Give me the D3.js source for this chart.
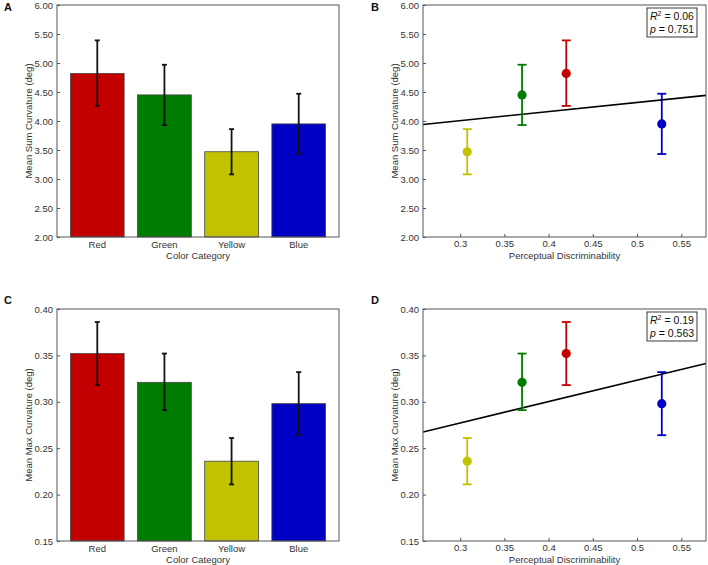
<!DOCTYPE html>
<html><head><meta charset="utf-8">
<script src="https://cdn.jsdelivr.net/npm/d3@7"></script>
<style>
body{margin:0;background:#fff;}
svg{display:block;font-family:"Liberation Sans",Arial,sans-serif;}
.tick text{fill:#333;font-size:9.5px;}
</style></head><body>
<svg id="chart" width="708" height="565"></svg>
<script>
const categories = ["Red","Green","Yellow","Blue"];
const colors = ["#c30000","#007c00","#c2c200","#0000c4"];
const discrim = [0.420, 0.370, 0.308, 0.528];
const sumMean = [4.82, 4.45, 3.47, 3.95];
const sumLo   = [4.26, 3.93, 3.08, 3.43];
const sumHi   = [5.39, 4.97, 3.86, 4.47];
const maxMean = [0.352, 0.321, 0.236, 0.298];
const maxLo   = [0.318, 0.291, 0.211, 0.264];
const maxHi   = [0.386, 0.352, 0.261, 0.332];
const sumTicks = [2.00,2.50,3.00,3.50,4.00,4.50,5.00,5.50,6.00];
const maxTicks = [0.15,0.20,0.25,0.30,0.35,0.40];
const xTicks = [0.3,0.35,0.4,0.45,0.5,0.55];
const statsB = {r2:"0.06", p:"0.751"};
const statsD = {r2:"0.19", p:"0.563"};

const svg = d3.select("#chart");
const frameColor = "#555";

function yAxisPanel(g, y, ticks, fmt, L, T, B, title){
  g.append("g").attr("transform",`translate(${L},0)`)
    .call(d3.axisLeft(y).tickValues(ticks).tickFormat(fmt).tickSizeInner(-3).tickSizeOuter(0).tickPadding(4))
    .call(a=>{a.select(".domain").remove();a.selectAll(".tick line").attr("stroke",frameColor);});
  g.append("text").attr("transform",`translate(${L-28},${(T+B)/2}) rotate(-90)`)
    .attr("text-anchor","middle").attr("dy","0.35em").attr("fill","#333").attr("font-size","9.5px").text(title);
}
function frame(g,L,R,T,B){
  g.append("rect").attr("x",L).attr("y",T).attr("width",R-L).attr("height",B-T)
    .attr("fill","none").attr("stroke",frameColor).attr("stroke-width",1);
}
function panelLabel(x,y,t){
  svg.append("text").attr("x",x).attr("y",y).attr("font-weight","bold").attr("font-size","11px").attr("fill","#111").text(t);
}

function barPanel(L,R,T,B,mean,lo,hi,ydom,ticks,fmt,title){
  const g = svg.append("g");
  const x = d3.scaleBand().domain(categories).range([L,R]).paddingInner(0.2).paddingOuter(0.2);
  const y = d3.scaleLinear().domain(ydom).range([B,T]);
  g.selectAll("rect.bar").data(categories).join("rect").attr("class","bar")
    .attr("x",d=>x(d)).attr("width",x.bandwidth())
    .attr("y",(d,i)=>y(mean[i])).attr("height",(d,i)=>B-y(mean[i]))
    .attr("fill",(d,i)=>colors[i]).attr("stroke","#444").attr("stroke-width",0.8);
  const cx = d=>x(d)+x.bandwidth()/2;
  g.selectAll("line.eb").data(categories).join("line").attr("class","eb")
    .attr("x1",cx).attr("x2",cx).attr("y1",(d,i)=>y(lo[i])).attr("y2",(d,i)=>y(hi[i]))
    .attr("stroke","#111").attr("stroke-width",1.8);
  [lo,hi].forEach(arr=>{
    g.selectAll(null).data(categories).join("line")
      .attr("x1",d=>cx(d)-2.5).attr("x2",d=>cx(d)+2.5).attr("y1",(d,i)=>y(arr[i])).attr("y2",(d,i)=>y(arr[i]))
      .attr("stroke","#111").attr("stroke-width",1.8);
  });
  frame(g,L,R,T,B);
  yAxisPanel(g,y,ticks,fmt,L,T,B,title);
  g.selectAll("text.cat").data(categories).join("text").attr("class","cat")
    .attr("x",cx).attr("y",B+11).attr("text-anchor","middle").attr("fill","#333").attr("font-size","9.5px").text(d=>d);
  g.append("text").attr("x",(L+R)/2).attr("y",B+21.5).attr("text-anchor","middle").attr("fill","#333").attr("font-size","9.5px").text("Color Category");
}

function scatterPanel(L,R,T,B,mean,lo,hi,ydom,ticks,fmt,title,stats){
  const g = svg.append("g");
  const x = d3.scaleLinear().domain([d3.min(discrim)-0.05, d3.max(discrim)+0.05]).range([L,R]);
  const y = d3.scaleLinear().domain(ydom).range([B,T]);
  const clip = "clip"+T+"_"+L;
  svg.append("clipPath").attr("id",clip).append("rect").attr("x",L).attr("y",T).attr("width",R-L).attr("height",B-T);
  // least-squares fit of the plotted points
  const mx = d3.mean(discrim), my = d3.mean(mean);
  const sxy = d3.sum(discrim,(v,i)=>(v-mx)*(mean[i]-my));
  const sxx = d3.sum(discrim,v=>(v-mx)*(v-mx));
  const slope = sxy/sxx, icpt = my - slope*mx;
  const [x0,x1] = x.domain();
  g.append("line").attr("clip-path",`url(#${clip})`)
    .attr("x1",x(x0)).attr("x2",x(x1)).attr("y1",y(icpt+slope*x0)).attr("y2",y(icpt+slope*x1))
    .attr("stroke","#000").attr("stroke-width",1.6);
  categories.forEach((c,i)=>{
    const px = x(discrim[i]);
    g.append("line").attr("x1",px).attr("x2",px).attr("y1",y(lo[i])).attr("y2",y(hi[i])).attr("stroke",colors[i]).attr("stroke-width",1.8);
    [lo[i],hi[i]].forEach(v=>g.append("line").attr("x1",px-4.5).attr("x2",px+4.5).attr("y1",y(v)).attr("y2",y(v)).attr("stroke",colors[i]).attr("stroke-width",1.8));
    g.append("circle").attr("cx",px).attr("cy",y(mean[i])).attr("r",4.6).attr("fill",colors[i]);
  });
  frame(g,L,R,T,B);
  yAxisPanel(g,y,ticks,fmt,L,T,B,title);
  g.append("g").attr("transform",`translate(0,${B})`)
    .call(d3.axisBottom(x).tickValues(xTicks).tickFormat(d3.format("")).tickSizeInner(-3).tickSizeOuter(0).tickPadding(3))
    .call(a=>{a.select(".domain").remove();a.selectAll(".tick line").attr("stroke",frameColor);});
  g.append("text").attr("x",(L+R)/2).attr("y",B+21.5).attr("text-anchor","middle").attr("fill","#333").attr("font-size","9.5px").text("Perceptual Discriminability");
  // stats box
  const bw=50,bh=29,bx=R-9-bw,by=T+3;
  g.append("rect").attr("x",bx).attr("y",by).attr("width",bw).attr("height",bh).attr("fill","#fff").attr("stroke","#222").attr("stroke-width",0.9);
  const t1 = g.append("text").attr("x",bx+3).attr("y",by+12).attr("font-size","10.5px").attr("fill","#111");
  t1.append("tspan").attr("font-style","italic").text("R");
  t1.append("tspan").attr("font-size","7px").attr("dy","-4").text("2");
  t1.append("tspan").attr("dy","4").text(" = "+stats.r2);
  const t2 = g.append("text").attr("x",bx+3).attr("y",by+25).attr("font-size","10.5px").attr("fill","#111");
  t2.append("tspan").attr("font-style","italic").text("p");
  t2.append("tspan").text(" = "+stats.p);
}

const f2 = d3.format(".2f");
barPanel(57,339,5,237,sumMean,sumLo,sumHi,[2,6],sumTicks,f2,"Mean Sum Curvature (deg)");
scatterPanel(423,706,5,237,sumMean,sumLo,sumHi,[2,6],sumTicks,f2,"Mean Sum Curvature (deg)",statsB);
barPanel(57,339,309,541,maxMean,maxLo,maxHi,[0.15,0.40],maxTicks,f2,"Mean Max Curvature (deg)");
scatterPanel(423,706,309,541,maxMean,maxLo,maxHi,[0.15,0.40],maxTicks,f2,"Mean Max Curvature (deg)",statsD);
panelLabel(4,11,"A"); panelLabel(371,11,"B"); panelLabel(4,304,"C"); panelLabel(371,304,"D");
</script></body></html>
